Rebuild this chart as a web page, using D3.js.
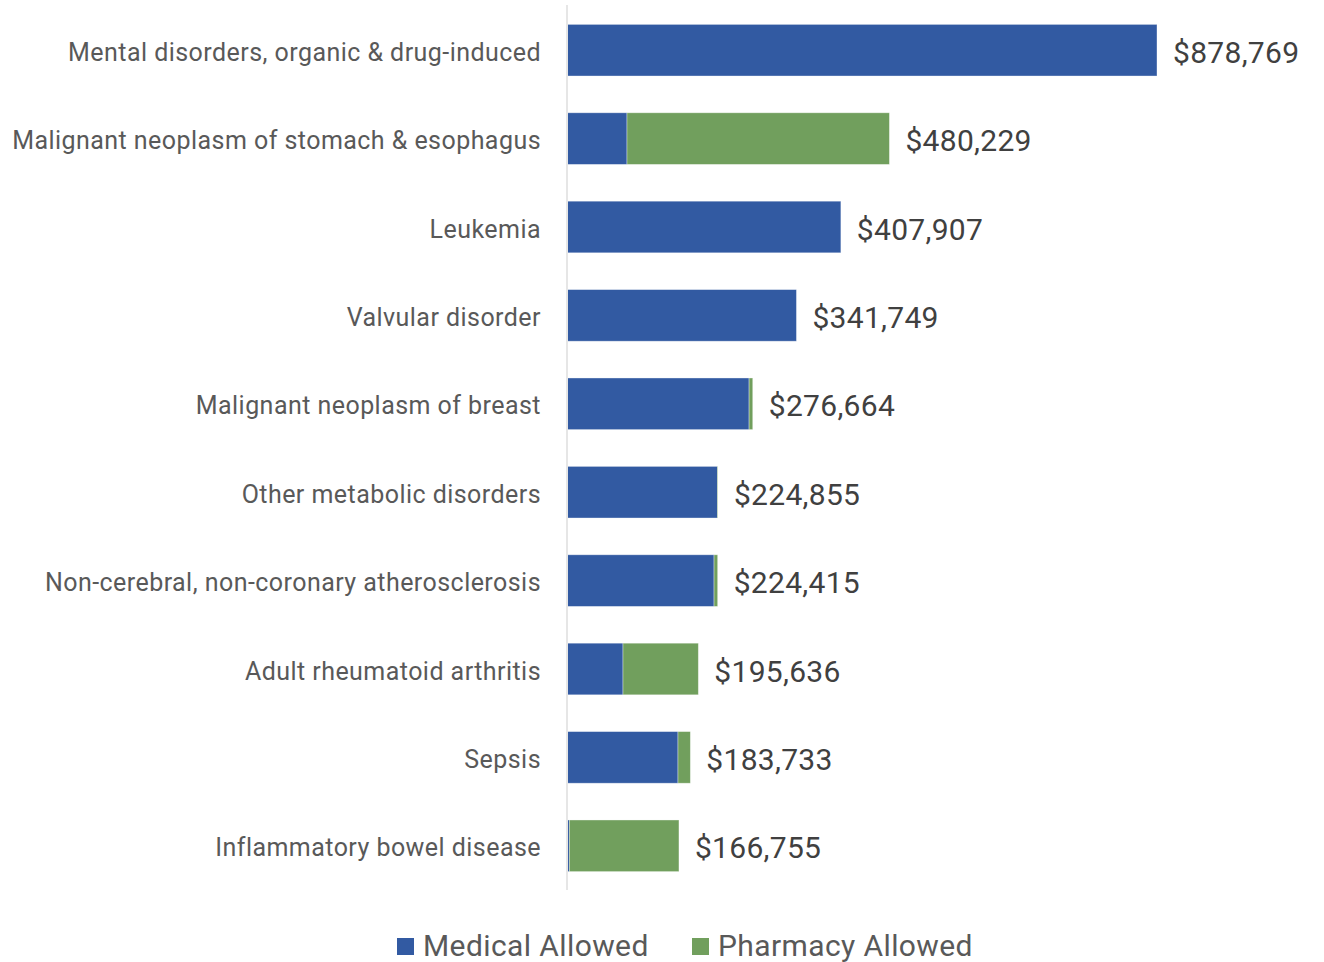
<!DOCTYPE html>
<html>
<head>
<meta charset="utf-8">
<script src="https://cdn.jsdelivr.net/npm/d3@7"></script>
<style>
  html, body { margin: 0; padding: 0; background: #fff; }
  svg { display: block; font-family: Roboto, "Noto Sans", sans-serif; }
</style>
</head>
<body>
<svg id="chart" width="1324" height="962"></svg>
<script>
// Top conditions by total allowed cost, split into medical and pharmacy
const categories = [
  "Mental disorders, organic & drug-induced",
  "Malignant neoplasm of stomach & esophagus",
  "Leukemia",
  "Valvular disorder",
  "Malignant neoplasm of breast",
  "Other metabolic disorders",
  "Non-cerebral, non-coronary atherosclerosis",
  "Adult rheumatoid arthritis",
  "Sepsis",
  "Inflammatory bowel disease"
];
const totals = [878769, 480229, 407907, 341749, 276664, 224855, 224415, 195636, 183733, 166755];
const pharmacyAllowed = [0, 390859, 0, 0, 5464, 855, 5415, 112236, 18433, 163255];
const medicalAllowed = totals.map((t, i) => t - pharmacyAllowed[i]);
const seriesNames = ["Medical Allowed", "Pharmacy Allowed"];
const seriesColors = ["#325AA2", "#719F5D"];

const svg = d3.select("#chart");
const margin = { left: 567, top: 6, right: 0 };
const plotBottom = 890;

const rows = categories.map((c, i) => ({
  category: c,
  "Medical Allowed": medicalAllowed[i],
  "Pharmacy Allowed": pharmacyAllowed[i],
  total: totals[i]
}));

const x = d3.scaleLinear()
  .domain([0, 878769])
  .range([margin.left, margin.left + 590]);

const y = d3.scaleBand()
  .domain(categories)
  .range([margin.top, plotBottom])
  .paddingInner(0.416)
  .paddingOuter(0.208);

const stack = d3.stack().keys(seriesNames);
const layers = stack(rows);

// Bars
svg.append("g")
  .selectAll("g")
  .data(layers)
  .join("g")
  .attr("fill", (d, i) => seriesColors[i])
  .selectAll("rect")
  .data(d => d.map(v => ({ v, cat: v.data.category })))
  .join("rect")
  .attr("x", d => x(d.v[0]))
  .attr("y", d => y(d.cat))
  .attr("width", d => Math.max(0, x(d.v[1]) - x(d.v[0])))
  .attr("height", y.bandwidth())
  .attr("stroke", "#ffffff")
  .attr("stroke-opacity", 0.45)
  .attr("stroke-width", 0.8);

// Category axis line
svg.append("line")
  .attr("x1", margin.left).attr("x2", margin.left)
  .attr("y1", 5).attr("y2", plotBottom)
  .attr("stroke", "#e6e6e6")
  .attr("stroke-width", 2);

// Category labels
const yAxis = d3.axisLeft(y).tickSize(0).tickPadding(26);
const yg = svg.append("g")
  .attr("transform", `translate(${margin.left},0)`)
  .call(yAxis);
yg.select(".domain").remove();
yg.selectAll("text")
  .attr("font-size", 25)
  .attr("letter-spacing", 0.45)
  .attr("dy", "0.42em")
  .attr("fill", "#595959")
  .attr("font-family", "Roboto, sans-serif");

// Total value labels
const fmt = d3.format("$,");
svg.append("g")
  .selectAll("text")
  .data(rows)
  .join("text")
  .attr("x", d => x(d.total) + 16)
  .attr("y", d => y(d.category) + y.bandwidth() / 2)
  .attr("dy", "0.42em")
  .attr("font-size", 30)
  .attr("letter-spacing", 0.3)
  .attr("fill", "#404040")
  .text(d => fmt(d.total));

// Legend
const legend = svg.append("g").attr("transform", "translate(397,945)");
const legendX = [0, 295];
seriesNames.forEach((name, i) => {
  const g = legend.append("g").attr("transform", `translate(${legendX[i]},0)`);
  g.append("rect")
    .attr("x", 0).attr("y", -7)
    .attr("width", 17).attr("height", 17)
    .attr("fill", seriesColors[i]);
  g.append("text")
    .attr("x", 26).attr("y", 0)
    .attr("dy", "0.36em")
    .attr("font-size", 30)
    .attr("letter-spacing", 0.4)
    .attr("fill", "#595959")
    .text(name);
});
</script>
</body>
</html>
